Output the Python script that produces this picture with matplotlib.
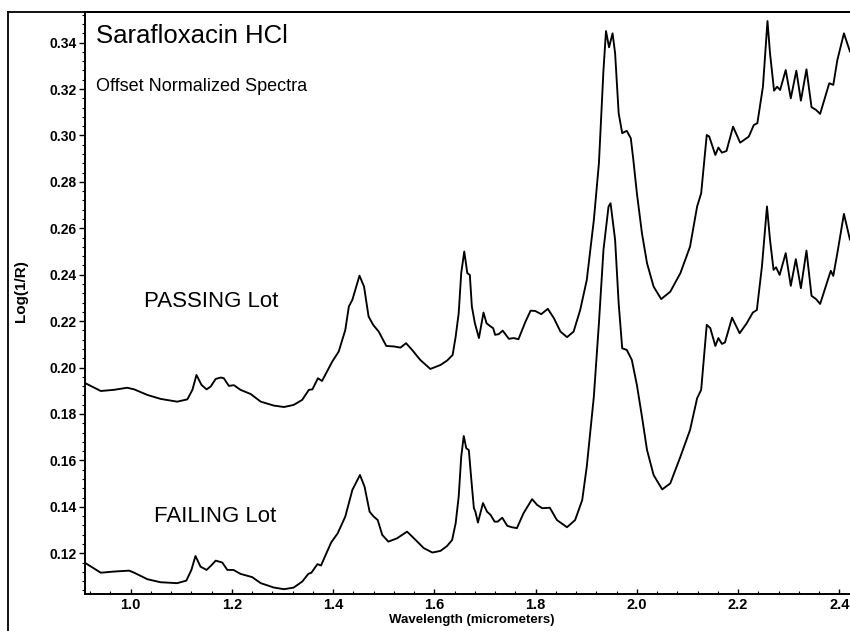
import matplotlib
matplotlib.use("Agg")
import matplotlib.pyplot as plt
from matplotlib.ticker import MultipleLocator, FormatStrFormatter
from matplotlib.lines import Line2D

plt.rcParams['font.family'] = ['Liberation Sans', 'DejaVu Sans']

# ---- data ----
passing_wl = [0.911, 0.941, 0.967, 0.993, 1.007, 1.033, 1.059, 1.092, 1.112, 1.122,
              1.130, 1.140, 1.150, 1.158, 1.168, 1.178, 1.184, 1.194, 1.204, 1.217,
              1.237, 1.257, 1.283, 1.303, 1.322, 1.339, 1.352, 1.359, 1.370, 1.378,
              1.398, 1.411, 1.424, 1.431, 1.438, 1.452, 1.461, 1.470, 1.479, 1.490,
              1.505, 1.520, 1.533, 1.544, 1.556, 1.572, 1.592, 1.612, 1.625, 1.636,
              1.642, 1.648, 1.653, 1.659, 1.665, 1.670, 1.674, 1.680, 1.688, 1.697,
              1.703, 1.711, 1.716, 1.720, 1.727, 1.735, 1.747, 1.757, 1.766, 1.780,
              1.790, 1.799, 1.811, 1.824, 1.836, 1.849, 1.862, 1.875, 1.888, 1.901,
              1.915, 1.925, 1.934, 1.939, 1.945, 1.952, 1.957, 1.964, 1.971, 1.980,
              1.988, 1.993, 2.000, 2.010, 2.020, 2.033, 2.048, 2.066, 2.086, 2.105,
              2.119, 2.127, 2.138, 2.143, 2.155, 2.161, 2.168, 2.177, 2.190, 2.204,
              2.221, 2.231, 2.238, 2.249, 2.258, 2.263, 2.271, 2.277, 2.283, 2.294,
              2.304, 2.315, 2.324, 2.335, 2.345, 2.354, 2.362, 2.380, 2.388, 2.396,
              2.409, 2.421]
passing_val = [0.1932, 0.1899, 0.1904, 0.1913, 0.1906, 0.1882, 0.1865, 0.1853, 0.1863, 0.1904,
               0.1968, 0.1925, 0.1906, 0.1918, 0.1951, 0.1957, 0.1954, 0.1921, 0.1924, 0.1904,
               0.1886, 0.1853, 0.1836, 0.1830, 0.1839, 0.1861, 0.1904, 0.1906, 0.1954, 0.1942,
               0.2025, 0.2069, 0.2162, 0.2263, 0.2292, 0.2396, 0.2349, 0.2220, 0.2184, 0.2155,
               0.2093, 0.2091, 0.2086, 0.2105, 0.2076, 0.2033, 0.1994, 0.2011, 0.2030, 0.2054,
               0.2133, 0.2234, 0.2407, 0.2500, 0.2407, 0.2399, 0.2263, 0.2191, 0.2127, 0.2237,
               0.2191, 0.2177, 0.2170, 0.2141, 0.2144, 0.2159, 0.2124, 0.2127, 0.2122, 0.2198,
               0.2245, 0.2244, 0.2230, 0.2253, 0.2213, 0.2155, 0.2131, 0.2155, 0.2248, 0.2377,
               0.2636, 0.2880, 0.3282, 0.3450, 0.3380, 0.3440, 0.3354, 0.3096, 0.3010, 0.3020,
               0.2988, 0.2895, 0.2751, 0.2579, 0.2450, 0.2349, 0.2295, 0.2327, 0.2407, 0.2521,
               0.2694, 0.2751, 0.3002, 0.2995, 0.2916, 0.2948, 0.2926, 0.2933, 0.3038, 0.2969,
               0.2995, 0.3045, 0.3053, 0.3210, 0.3493, 0.3354, 0.3193, 0.3210, 0.3196, 0.3282,
               0.3160, 0.3279, 0.3150, 0.3285, 0.3122, 0.3110, 0.3093, 0.3225, 0.3218, 0.3325,
               0.3440, 0.3361]

failing_wl = [0.911, 0.941, 0.967, 0.997, 1.007, 1.033, 1.059, 1.092, 1.110, 1.120,
              1.128, 1.138, 1.150, 1.159, 1.168, 1.181, 1.191, 1.203, 1.217, 1.240,
              1.257, 1.283, 1.303, 1.322, 1.339, 1.351, 1.357, 1.369, 1.376, 1.396,
              1.409, 1.424, 1.438, 1.453, 1.462, 1.472, 1.480, 1.488, 1.497, 1.509,
              1.526, 1.546, 1.563, 1.579, 1.596, 1.612, 1.625, 1.635, 1.642, 1.648,
              1.653, 1.658, 1.663, 1.668, 1.673, 1.678, 1.681, 1.686, 1.696, 1.704,
              1.711, 1.719, 1.725, 1.734, 1.744, 1.753, 1.763, 1.776, 1.793, 1.803,
              1.813, 1.828, 1.842, 1.862, 1.878, 1.892, 1.901, 1.915, 1.925, 1.934,
              1.944, 1.948, 1.957, 1.964, 1.971, 1.980, 1.990, 2.000, 2.010, 2.020,
              2.033, 2.050, 2.066, 2.086, 2.105, 2.119, 2.127, 2.138, 2.145, 2.155,
              2.161, 2.168, 2.174, 2.188, 2.203, 2.217, 2.229, 2.237, 2.247, 2.257,
              2.263, 2.270, 2.275, 2.282, 2.294, 2.304, 2.314, 2.324, 2.335, 2.345,
              2.354, 2.362, 2.383, 2.388, 2.396, 2.409, 2.421]
failing_val = [0.1157, 0.1116, 0.1121, 0.1125, 0.1116, 0.1088, 0.1075, 0.1071, 0.1082, 0.1128,
               0.1188, 0.1142, 0.1128, 0.1147, 0.1168, 0.1160, 0.1128, 0.1128, 0.1111, 0.1097,
               0.1071, 0.1052, 0.1045, 0.1052, 0.1078, 0.1111, 0.1116, 0.1153, 0.1147, 0.1246,
               0.1286, 0.1358, 0.1473, 0.1537, 0.1487, 0.1379, 0.1358, 0.1343, 0.1279, 0.1250,
               0.1264, 0.1293, 0.1257, 0.1222, 0.1203, 0.1210, 0.1231, 0.1257, 0.1329, 0.1444,
               0.1616, 0.1705, 0.1652, 0.1645, 0.1516, 0.1394, 0.1379, 0.1332, 0.1416, 0.1379,
               0.1365, 0.1336, 0.1336, 0.1353, 0.1318, 0.1312, 0.1308, 0.1372, 0.1433, 0.1408,
               0.1394, 0.1396, 0.1343, 0.1312, 0.1343, 0.1429, 0.1573, 0.1875, 0.2191, 0.2507,
               0.2694, 0.2708, 0.2550, 0.2277, 0.2083, 0.2076, 0.2033, 0.1925, 0.1789, 0.1645,
               0.1537, 0.1475, 0.1501, 0.1616, 0.1731, 0.1868, 0.1904, 0.2184, 0.2170, 0.2093,
               0.2127, 0.2102, 0.2108, 0.2215, 0.2148, 0.2191, 0.2237, 0.2248, 0.2435, 0.2694,
               0.2550, 0.2421, 0.2432, 0.2399, 0.2493, 0.2352, 0.2467, 0.2342, 0.2504, 0.2309,
               0.2295, 0.2274, 0.2417, 0.2395, 0.2493, 0.2662, 0.2550]

title = "Sarafloxacin HCl"
subtitle = "Offset Normalized Spectra"
label_pass = "PASSING Lot"
label_fail = "FAILING Lot"
xlabel = "Wavelength (micrometers)"
ylabel = "Log(1/R)"

# ---- figure ----
fig = plt.figure(figsize=(8.5, 6.31), dpi=100)
ax = fig.add_axes([85/850, (631-594.3)/631, 1 - 85/850, (594.3-12)/631])

line_kw = dict(color='black', lw=1.35, solid_joinstyle='round', solid_capstyle='round')
ax.plot(passing_wl, passing_val, **line_kw)
ax.plot(failing_wl, failing_val, **line_kw)

ax.set_xlim(0.9098, 2.421)
ax.set_ylim(0.1023, 0.3532)

ax.xaxis.set_major_locator(MultipleLocator(0.2))
ax.xaxis.set_minor_locator(MultipleLocator(0.04))
ax.yaxis.set_major_locator(MultipleLocator(0.02))
ax.yaxis.set_minor_locator(MultipleLocator(0.004))
ax.xaxis.set_major_formatter(FormatStrFormatter('%.1f'))
ax.yaxis.set_major_formatter(FormatStrFormatter('%.2f'))

ax.spines['right'].set_visible(False)
for s in ['left', 'bottom', 'top']:
    ax.spines[s].set_linewidth(1.4)

ax.tick_params(axis='x', which='major', direction='in', length=3.5, width=1,
               labelsize=10.5, pad=2.5)
ax.tick_params(axis='x', which='minor', direction='in', length=2, width=0.8)
ax.tick_params(axis='y', which='major', direction='out', length=4.5, width=1,
               labelsize=10, pad=1.5)
ax.tick_params(axis='y', which='minor', direction='out', length=2.5, width=0.8)
for lab in ax.get_xticklabels() + ax.get_yticklabels():
    lab.set_fontweight('bold')

ax.set_xlabel(xlabel, fontsize=9.5, fontweight='bold')
ax.set_ylabel(ylabel, fontsize=11, fontweight='bold')
ax.xaxis.set_label_coords((472-85)/765, -0.034)
ax.yaxis.set_label_coords(-0.074, 0.52)

ax.text(0.931, 0.3397, title, fontsize=18.5, va='baseline', ha='left')
ax.text(0.931, 0.3192, subtitle, fontsize=13, va='baseline', ha='left')
ax.text(1.026, 0.2262, label_pass, fontsize=16, va='baseline', ha='left')
ax.text(1.046, 0.1336, label_fail, fontsize=16, va='baseline', ha='left')

# outer frame lines
fig.add_artist(Line2D([8/850, 8/850], [0, 1 - 12/631], transform=fig.transFigure,
                      color='black', lw=1.3))
fig.add_artist(Line2D([8/850, 1], [1 - 12/631, 1 - 12/631], transform=fig.transFigure,
                      color='black', lw=1.3))

fig.savefig("out.png", dpi=100)
